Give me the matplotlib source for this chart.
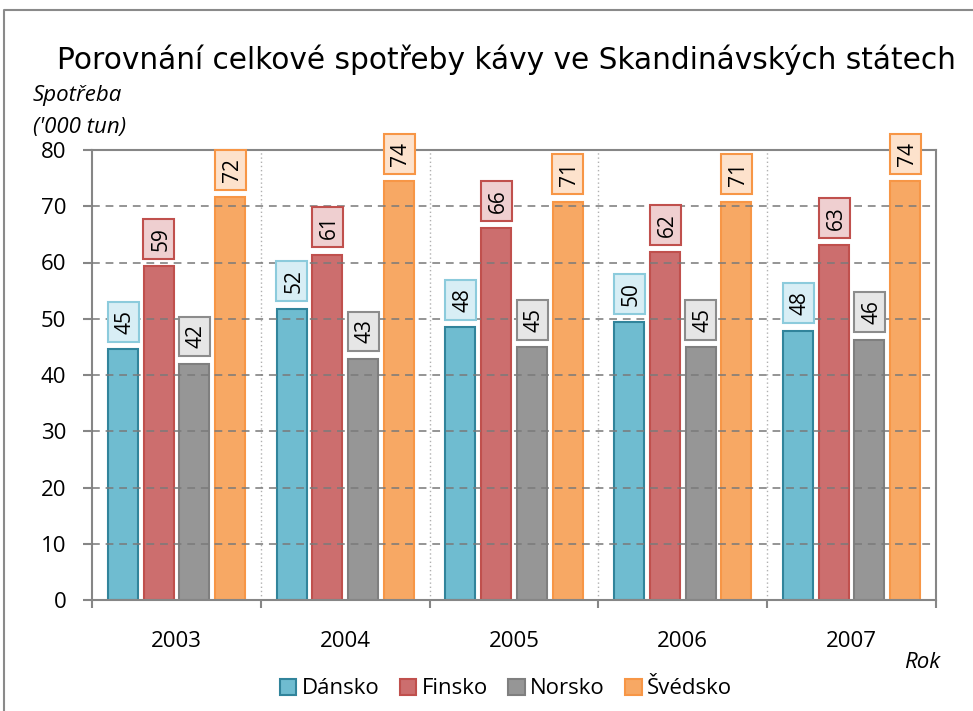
import matplotlib
matplotlib.use("Agg")
import matplotlib.pyplot as plt
from matplotlib.lines import Line2D
from matplotlib.patches import Patch
from matplotlib.path import Path
import numpy as np

years = ["2003", "2004", "2005", "2006", "2007"]
series = ["Dánsko", "Finsko", "Norsko", "Švédsko"]
danske = [44.6, 51.8, 48.5, 49.5, 47.9]
finsko = [59.3, 61.4, 66.1, 61.9, 63.1]
norsko = [42.0, 42.9, 44.9, 44.9, 46.3]
svedsko = [71.6, 74.4, 70.8, 70.8, 74.4]
yticks = [0, 10, 20, 30, 40, 50, 60, 70, 80]

values = [danske, finsko, norsko, svedsko]
fills = ["#6FBCD0", "#CC6E6E", "#969696", "#F7A864"]
edges = ["#31849B", "#C0504D", "#7F7F7F", "#F79646"]
boxfills = ["#D8EEF5", "#EFCFD0", "#E6E6E6", "#FDE2CC"]
boxedges = ["#8CCBDC", "#C0504D", "#8C8C8C", "#F79646"]

FONT = "Open Sans"
FS = 16


def label_box(x0, y0, width, height, mutation_size):
    m = mutation_size
    px = 0.385 * m
    xa, xb = x0 - px, x0 + width + px
    ya, yb = y0 - 0.148 * m, y0 + 1.342 * m
    return Path([(xa, ya), (xb, ya), (xb, yb), (xa, yb), (xa, ya)],
                [Path.MOVETO, Path.LINETO, Path.LINETO, Path.LINETO, Path.CLOSEPOLY])


fig = plt.figure(figsize=(9.73, 7.11), dpi=100)
ax = fig.add_axes([92/973, 1-600/711, 844/973, 450/711])

x = np.arange(len(years))
step = 0.2115
width = 0.178
for j, (vals, fc, ec, bfc, bec) in enumerate(zip(values, fills, edges, boxfills, boxedges)):
    xs = x + (j - 1.5) * step
    ax.bar(xs, vals, width=width, color=fc, edgecolor=ec, linewidth=1.5, zorder=2, label=series[j])
    for xi, v in zip(xs, vals):
        ax.annotate(f"{v:.0f}", (xi, v), xytext=(1.6, 11), textcoords="offset points",
                    rotation=90, ha="center", va="bottom", fontsize=15, family=FONT,
                    bbox=dict(boxstyle=label_box, fc=bfc, ec=bec, lw=1.5),
                    zorder=5, annotation_clip=False)

ax.set_xlim(-0.5, len(years) - 0.5)
ax.set_ylim(0, 80)
ax.set_yticks(yticks)
ax.set_yticklabels([str(t) for t in yticks], family=FONT, fontsize=FS)
ax.set_xticks(x)
ax.set_xticklabels(years, family=FONT, fontsize=FS)
ax.set_xticks(np.arange(-0.5, len(years)), minor=True)
ax.tick_params(axis="x", which="major", length=0, pad=22)
ax.tick_params(axis="x", which="minor", length=6, width=1.5, color="#868686")
ax.tick_params(axis="y", length=6.5, width=1.5, color="#868686", pad=12)

for y in yticks[1:-1]:
    ax.axhline(y, color="#7a7a7a", lw=1.4, ls=(0, (4, 3)), alpha=0.8, zorder=3)
for xb in np.arange(0.5, len(years) - 1):
    ax.axvline(xb, color="#b0b0b0", lw=1.0, ls=(0, (1, 2)), zorder=1)

for s in ax.spines.values():
    s.set_color("#868686")
    s.set_linewidth(1.5)

fig.text(506/973, 1-60/711, "Porovnání celkové spotřeby kávy ve Skandinávských státech",
         ha="center", va="center", fontsize=21.3, family="DejaVu Sans")
fig.text(33/973, 1-95/711, "Spotřeba", ha="left", va="center", fontsize=FS,
         style="italic", family=FONT)
fig.text(33/973, 1-127/711, "('000 tun)", ha="left", va="center", fontsize=FS,
         style="italic", family=FONT)
fig.text(940/973, 1-662/711, "Rok", ha="right", va="center", fontsize=FS,
         style="italic", family=FONT)

handles = [Patch(facecolor=fc, edgecolor=ec, linewidth=1.5) for fc, ec in zip(fills, edges)]
leg = fig.legend(handles, series, loc="center", bbox_to_anchor=(506/973, 1-689/711),
                 ncol=4, frameon=False, prop={"family": FONT, "size": FS},
                 handlelength=0.75, handleheight=0.75, handletextpad=0.25, columnspacing=0.9,
                 borderaxespad=0, borderpad=0)

fig.add_artist(Line2D([4/973, 4/973, 1.0], [0.0, 1-10/711, 1-10/711],
                      transform=fig.transFigure, color="#8a8a8a", lw=1.5))

fig.savefig("out.png", dpi=100)
